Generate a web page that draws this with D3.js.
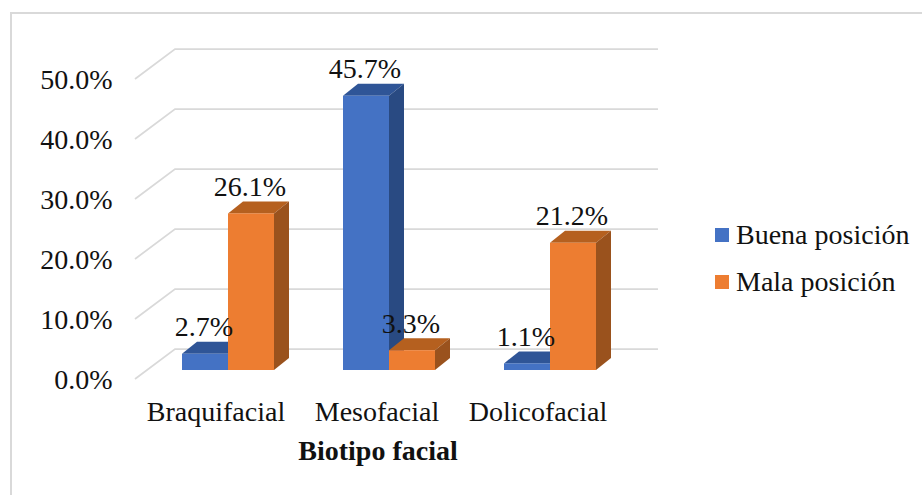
<!DOCTYPE html>
<html>
<head>
<meta charset="utf-8">
<script src="https://cdn.jsdelivr.net/npm/d3@7"></script>
<style>
  html, body { margin: 0; padding: 0; background: #fff; overflow: hidden; }
  text { font-family: "Liberation Serif", serif; fill: #111; }
</style>
</head>
<body>
<div id="vis"></div>
<script>
// Data
const categories = ["Braquifacial", "Mesofacial", "Dolicofacial"];
const seriesNames = ["Buena posición", "Mala posición"];
const buena = [2.7, 45.7, 1.1];
const mala = [26.1, 3.3, 21.2];
const yTicks = [0, 10, 20, 30, 40, 50];

const seriesValues = [buena, mala];
const frontColors = ["#4472c4", "#ed7d31"];
const topColors = ["#2f5597", "#b5601f"];
const sideColors = ["#294a82", "#9a521d"];

const width = 922, height = 495;
const wallDx = 40, wallDy = -30;      // floor depth
const barDx = 15, barDy = -12;        // depth of a bar
const barInset = 9;                   // bars stand a bit in front of the axis line
const fontSize = 28;

const svg = d3.select("#vis").append("svg")
    .attr("width", width)
    .attr("height", height)
    .style("display", "block");

// outer frame, only left and top show
svg.append("path")
    .attr("d", `M11,${height} V13 H${width}`)
    .attr("fill", "none")
    .attr("stroke", "#d9d9d9")
    .attr("stroke-width", 2);

const y = d3.scaleLinear().domain([0, 50]).range([379, 79]);
const x = d3.scaleBand().domain(categories).range([147.5, 630.5]);
const xSeries = d3.scaleBand().domain(d3.range(seriesNames.length)).range([34.5, 126.5]);

// gridlines: diagonal on the floor side, then along the back wall
const gridLeft = 135, gridRight = 658;
svg.append("g").selectAll("path")
    .data(yTicks)
    .join("path")
    .attr("d", d => `M${gridLeft},${y(d)} L${gridLeft + wallDx},${y(d) + wallDy} H${gridRight}`)
    .attr("fill", "none")
    .attr("stroke", "#d9d9d9")
    .attr("stroke-width", 1.75);

// y axis, just the labels
const yAxis = svg.append("g")
    .attr("transform", `translate(${gridLeft - 22.5},0)`)
    .call(d3.axisLeft(y).tickValues(yTicks).tickSize(0).tickPadding(0).tickFormat(d => d.toFixed(1) + "%"));
yAxis.select(".domain").remove();
yAxis.selectAll("text")
    .attr("font-size", fontSize)
    .attr("font-family", "Liberation Serif")
    .attr("dy", "0.33em");

// flatten for the bars
const bars = [];
categories.forEach((c, i) => {
    seriesValues.forEach((vals, s) => {
        bars.push({ cat: c, s: s, value: vals[i] });
    });
});

const base = y(0) - barInset;
const barLeft = d => x(d.cat) + xSeries(d.s);
const barTop = d => y(d.value) - barInset;
const bw = xSeries.bandwidth();

const barG = svg.append("g").selectAll("g")
    .data(bars)
    .join("g");

// top face
barG.append("path")
    .attr("d", d => {
        const l = barLeft(d), t = barTop(d);
        return `M${l},${t} l${barDx},${barDy} h${bw} l${-barDx},${-barDy} Z`;
    })
    .attr("fill", d => topColors[d.s]);

// side face
barG.append("path")
    .attr("d", d => {
        const r = barLeft(d) + bw, t = barTop(d);
        return `M${r},${t} l${barDx},${barDy} V${base + barDy} L${r},${base} Z`;
    })
    .attr("fill", d => sideColors[d.s]);

// front face
barG.append("rect")
    .attr("x", barLeft)
    .attr("y", barTop)
    .attr("width", bw)
    .attr("height", d => base - barTop(d))
    .attr("fill", d => frontColors[d.s]);

// data labels
svg.append("g").selectAll("text")
    .data(bars)
    .join("text")
    .attr("x", d => barLeft(d) + bw / 2 - 1)
    .attr("y", d => barTop(d) - 17.5)
    .attr("text-anchor", "middle")
    .attr("font-size", fontSize)
    .text(d => d.value.toFixed(1) + "%");

// category labels
svg.append("g").selectAll("text")
    .data(categories)
    .join("text")
    .attr("x", d => x(d) + x.bandwidth() / 2 - 12)
    .attr("y", 421)
    .attr("text-anchor", "middle")
    .attr("font-size", fontSize)
    .text(d => d);

// axis title
svg.append("text")
    .attr("x", 378)
    .attr("y", 460)
    .attr("text-anchor", "middle")
    .attr("font-size", fontSize)
    .attr("font-weight", "bold")
    .text("Biotipo facial");

// legend
const legendY = d3.scalePoint().domain(seriesNames).range([235, 282]);
const legend = svg.append("g").selectAll("g")
    .data(seriesNames)
    .join("g")
    .attr("transform", d => `translate(715,${legendY(d)})`);
legend.append("rect")
    .attr("y", -7)
    .attr("width", 14)
    .attr("height", 14)
    .attr("fill", (d, i) => frontColors[i]);
legend.append("text")
    .attr("x", 21)
    .attr("y", 9)
    .attr("font-size", fontSize)
    .text(d => d);
</script>
</body>
</html>
